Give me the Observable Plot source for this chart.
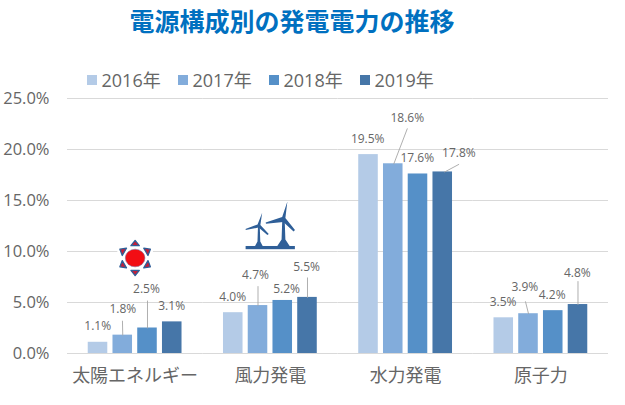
<!DOCTYPE html>
<html lang="ja">
<head>
<meta charset="utf-8">
<script src="https://cdn.jsdelivr.net/npm/d3@7"></script>
<script src="https://cdn.jsdelivr.net/npm/@observablehq/plot@0.6"></script>
<style>
html,body{margin:0;padding:0;background:#fff;overflow:hidden}
body{width:625px;height:405px;font-family:"Open Sans","Noto Sans CJK JP",sans-serif}
#title{width:584px;height:41px;line-height:41px;text-align:center;font-family:"Noto Sans CJK JP",sans-serif;font-size:25px;font-weight:700;color:#0070C0;white-space:nowrap}
#legend{height:16px;padding:31px 0 0 87px;display:flex;line-height:20px;font-size:18px;color:#666}
#legend div{width:91px;flex:none;display:flex;align-items:center;white-space:nowrap}
#legend i{display:block;width:9.5px;height:9.5px;margin-right:5px}
</style>
</head>
<body>
<div id="title"></div>
<div id="legend"></div>
<div id="chart"></div>
<script>
const titleText = "電源構成別の発電電力の推移";
const categories = ["太陽エネルギー", "風力発電", "水力発電", "原子力"];
const years = ["2016年", "2017年", "2018年", "2019年"];
const colors = ["#B4CBE7", "#82ACDB", "#5590C8", "#4676A8"];
const solar = [1.1, 1.8, 2.5, 3.1];
const wind = [4.0, 4.7, 5.2, 5.5];
const hydro = [19.5, 18.6, 17.6, 17.8];
const nuclear = [3.5, 3.9, 4.2, 4.8];
const yTicks = [0, 5, 10, 15, 20, 25];
const series = [solar, wind, hydro, nuclear];

// Hand placement of the data labels: [dx, dy] from the top of each bar, in px.
const labelOffsets = [
  [[-0.3,-16],[0.1,-25.6],[-1,-38.5],[-0.6,-15.7]],
  [[-0.6,-15.5],[-2.5,-30],[3.8,-11.3],[-0.9,-30.2]],
  [[-0.8,-15],[14,-45.6],[-0.7,-15.8],[16.2,-18.7]],
  [[-0.7,-15.6],[-3.7,-26.5],[-1.1,-15.2],[-0.7,-31.3]]
];
// Leader lines: category, year, start dx, end dx, end dy, in px from the bar top.
const leaders = [
  [0,1,0,-0.3,-14],[0,2,0,0,-27],
  [1,1,0,0,-19],[1,3,0,0,-19.5],
  [2,1,0.6,14,-35],[2,3,2,16,-7.5],
  [3,1,0,-3,-12],[3,3,0,0,-23]
];

const rows = series.flatMap((vals, c) => vals.map((value, y) => ({
  category: categories[c], year: years[y], value, c, y
})));
const rowAt = (c, y) => rows[c * years.length + y];
const fmt = v => d3.format(".1f")(v) + "%";

document.getElementById("title").textContent = titleText;
const legend = document.getElementById("legend");
years.forEach((yr, i) => {
  const item = document.createElement("div");
  const sw = document.createElement("i");
  sw.style.background = colors[i];
  item.append(sw, yr);
  legend.append(item);
});

const svgUri = s => "data:image/svg+xml," + encodeURIComponent(s);

const sunTriangles = [0, 60, 120, 180, 240, 300].map(a =>
  `<polygon transform="rotate(${a} 20 20)" points="20,2.4 24.2,7.6 15.8,7.6" fill="#C21F3A" stroke="#2F5F98" stroke-width="1.3" stroke-linejoin="round"/>`
).join("");
const sunIcon = svgUri(`<svg xmlns="http://www.w3.org/2000/svg" width="40" height="40" viewBox="0 0 40 40"><circle cx="20" cy="20" r="19" fill="#fff"/>${sunTriangles}<ellipse cx="20" cy="20" rx="9.8" ry="8.8" fill="#F20D14" stroke="#8A6E9A" stroke-width=".6"/></svg>`);

const windIcon = svgUri(`<svg xmlns="http://www.w3.org/2000/svg" width="50" height="50" viewBox="0 0 50 50" fill="#2F5F98">
<rect x="0" y="45.5" width="49.5" height="3.2"/>
<path d="M12.6 26 L14.4 26 L14.9 41 L17.6 46 L9.4 46 L12.1 41 Z"/>
<path d="M36.9 19 L39.3 19 L40 39 L44.6 46 L31.6 46 L36.2 39 Z"/>
<path d="M12.2 24 L16.8 12.3 L15 24.4 L23.4 33.4 L22 34.6 L13.2 27 L0.2 29.6 L0 28.6 Z"/>
<path d="M36.8 16.6 L42 1 L40 17.6 L49.6 29.4 L48.2 31 L38 21.4 L20.6 23.2 L20.3 22 Z"/>
</svg>`);

const labelMarks = rows.map(d => Plot.text([d], {
  fx: "category", x: "year", y: "value",
  text: r => fmt(r.value),
  dx: labelOffsets[d.c][d.y][0], dy: labelOffsets[d.c][d.y][1],
  fontSize: 12, fill: "#666"
}));

const leaderMarks = leaders.map(([c, y, sx, ex, ey]) => Plot.vector([rowAt(c, y)], {
  fx: "category", x: "year", y: "value",
  length: 1, rotate: 0, anchor: "start", fill: "none",
  stroke: "#A6A6A6", strokeWidth: 0.9,
  shape: {draw(ctx) { ctx.moveTo(sx, 0); ctx.lineTo(ex, ey); }}
}));

const chart = Plot.plot({
  width: 625, height: 317,
  marginLeft: 67, marginRight: 17, marginTop: 10, marginBottom: 52,
  style: {fontFamily: '"Open Sans","Noto Sans CJK JP",sans-serif', background: "transparent", overflow: "visible"},
  fx: {domain: categories, padding: 0, round: false, label: null},
  x: {domain: years, paddingInner: 0.21, paddingOuter: 0.838, round: false, axis: null},
  y: {domain: [0, 25], label: null},
  color: {domain: years, range: colors},
  marks: [
    Plot.ruleY(yTicks, {stroke: "#D9D9D9", strokeWidth: 1.2}),
    Plot.axisY({ticks: yTicks, tickSize: 0, tickPadding: 18, label: null,
      tickFormat: fmt, fontSize: 16.5, fill: "#666"}),
    Plot.axisFx({anchor: "bottom", tickSize: 0, tickPadding: 16, label: null,
      fontSize: 18, fill: "#666"}),
    Plot.barY(rows, {fx: "category", x: "year", y: "value", fill: "year"}),
    Plot.image([{category: categories[0], level: 9.36}], {fx: "category", y: "level", src: () => sunIcon, width: 40, height: 40}),
    Plot.image([{category: categories[1], level: 12.55}], {fx: "category", y: "level", src: () => windIcon, width: 50, height: 50}),
    ...leaderMarks,
    ...labelMarks
  ]
});
document.getElementById("chart").append(chart);
</script>
</body>
</html>
